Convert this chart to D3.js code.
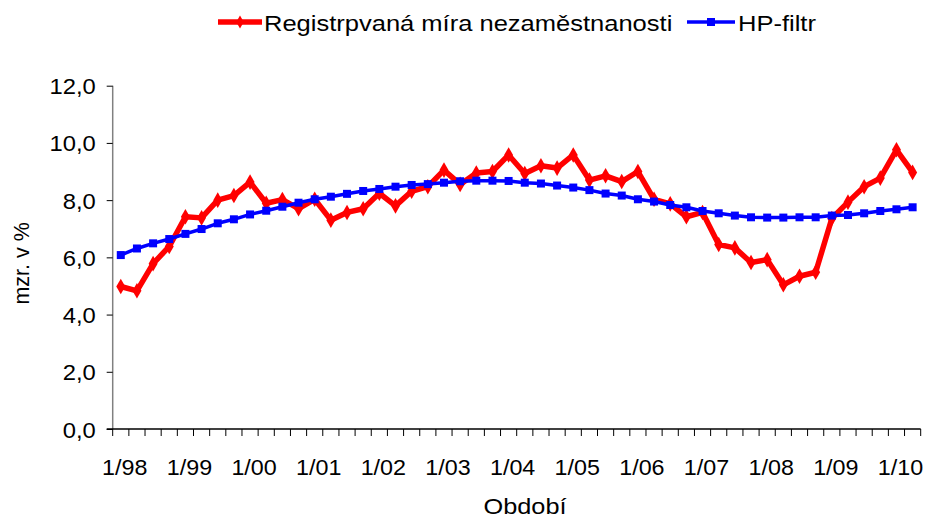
<!DOCTYPE html>
<html>
<head>
<meta charset="utf-8">
<script src="https://cdn.jsdelivr.net/npm/d3@7"></script>
<style>
  body { margin: 0; background: #fff; }
  svg { display: block; font-family: "Liberation Sans", Arial, sans-serif; }
</style>
</head>
<body>
<svg id="chart" width="928" height="520"></svg>
<script>
// Quarterly periods 1998Q1 .. 2010Q2
const years = ["98","99","00","01","02","03","04","05","06","07","08","09","10"];
const periods = [];
years.forEach(y => { for (let q = 1; q <= 4; q++) periods.push(q + "/" + y); });
periods.length = 50;
const tickLabelYears = years.map(y => "1/" + y);

const unemployment = [
  4.98, 4.83, 5.78, 6.38, 7.42, 7.38, 8.0, 8.16, 8.63, 7.89,
  8.02, 7.70, 8.03, 7.30, 7.57, 7.70, 8.24, 7.80, 8.31, 8.47,
  9.05, 8.55, 8.95, 9.00, 9.58, 8.93, 9.20, 9.12, 9.58, 8.70,
  8.85, 8.65, 9.00, 8.03, 7.87, 7.42, 7.57, 6.45, 6.33, 5.82,
  5.92, 5.04, 5.34, 5.48, 7.36, 7.93, 8.47, 8.77, 9.76, 8.97
];
const hpFilter = [
  6.08, 6.31, 6.49, 6.64, 6.82, 6.99, 7.19, 7.33, 7.50, 7.63,
  7.77, 7.91, 8.03, 8.12, 8.22, 8.32, 8.39, 8.47, 8.53, 8.56,
  8.61, 8.66, 8.68, 8.68, 8.67, 8.61, 8.58, 8.51, 8.44, 8.35,
  8.23, 8.16, 8.03, 7.95, 7.83, 7.75, 7.62, 7.54, 7.46, 7.40,
  7.39, 7.39, 7.40, 7.40, 7.46, 7.48, 7.54, 7.62, 7.68, 7.75
];
const yTicks = [0, 2, 4, 6, 8, 10, 12];
const seriesNames = ["Registrpvaná míra nezaměstnanosti", "HP-filtr"];
const axisTitleX = "Období";
const axisTitleY = "mzr. v %";

const svg = d3.select("#chart");
const pLeft = 112.7, pRight = 920.7, pTop = 85.7, pBottom = 429;

const x = d3.scaleBand().domain(periods).range([pLeft, pRight]).padding(0);
const y = d3.scaleLinear().domain([0, 12]).range([pBottom, pTop]);
const cx = d => x(d) + x.bandwidth() / 2;

// helper: horizontally stretched text (reference rendering is wider than tall)
function stext(g, px, py, str, size, sx, anchor) {
  return g.append("text")
    .attr("transform", `translate(${px},${py}) scale(${sx},1)`)
    .attr("text-anchor", anchor || "start")
    .attr("font-size", size).attr("fill", "#000").text(str);
}

// Y axis
const yAxis = d3.axisLeft(y).tickValues(yTicks).tickSize(6).tickPadding(10)
  .tickFormat(d => d3.format(".1f")(d).replace(".", ","));
const gy = svg.append("g").attr("transform", `translate(${pLeft},0)`).call(yAxis);
gy.select(".domain").attr("stroke", "#808080").attr("stroke-width", 1.5).attr("d", `M0,${pTop}V${pBottom}`);
gy.selectAll(".tick line").attr("stroke", "#000");
gy.selectAll(".tick text").remove();
gy.selectAll(".tick").each(function(d) {
  stext(d3.select(this), -17, 8, d3.format(".1f")(d).replace(".", ","), 22, 1.08, "end");
});

// X axis: ticks at category boundaries
const boundaries = d3.range(periods.length + 1).map(i => pLeft + i * x.bandwidth());
const gx = svg.append("g");
gx.append("line").attr("x1", pLeft - 6).attr("x2", pRight).attr("y1", pBottom).attr("y2", pBottom)
  .attr("stroke", "#000").attr("stroke-width", 1.5);
gx.selectAll("line.tk").data(boundaries).enter().append("line").attr("class", "tk")
  .attr("x1", d => d).attr("x2", d => d).attr("y1", pBottom).attr("y2", pBottom + 7)
  .attr("stroke", "#000").attr("stroke-width", 1);
tickLabelYears.forEach(d => stext(gx, cx(d) + 4, pBottom + 46, d, 22, 1.06, "middle"));

// Axis titles
stext(svg, 525, 514, axisTitleX, 22, 1.15, "middle");
svg.append("text").attr("transform", `translate(29,${(pTop + pBottom) / 2 + 6}) rotate(-90)`)
  .attr("text-anchor", "middle").attr("font-size", 21.5).text(axisTitleY);

// Lines
const line = d3.line().x((d, i) => cx(periods[i])).y(d => y(d));
svg.append("path").datum(unemployment).attr("d", line).attr("fill", "none")
  .attr("stroke", "#ff0000").attr("stroke-width", 5.5).attr("stroke-linejoin", "round");
svg.selectAll("path.dm").data(unemployment).enter().append("path").attr("class", "dm")
  .attr("d", d3.symbol(d3.symbolDiamond, 70))
  .attr("transform", (d, i) => `translate(${cx(periods[i])},${y(d)})`)
  .attr("fill", "#ff0000");

svg.append("path").datum(hpFilter).attr("d", line).attr("fill", "none")
  .attr("stroke", "#0000ff").attr("stroke-width", 3.5).attr("stroke-linejoin", "round");
svg.selectAll("rect.sq").data(hpFilter).enter().append("rect").attr("class", "sq")
  .attr("x", (d, i) => cx(periods[i]) - 4).attr("y", d => y(d) - 4)
  .attr("width", 8).attr("height", 8).attr("fill", "#0000ff");

// Legend
const lg = svg.append("g");
lg.append("line").attr("x1", 218).attr("x2", 262).attr("y1", 22).attr("y2", 22)
  .attr("stroke", "#ff0000").attr("stroke-width", 5.5);
lg.append("path").attr("d", d3.symbol(d3.symbolDiamond, 50)).attr("transform", "translate(240,22)").attr("fill", "#ff0000");
stext(lg, 264, 31, seriesNames[0], 22, 1.16);
lg.append("line").attr("x1", 687).attr("x2", 735).attr("y1", 22).attr("y2", 22)
  .attr("stroke", "#0000ff").attr("stroke-width", 3.5);
lg.append("rect").attr("x", 707).attr("y", 18).attr("width", 8).attr("height", 8).attr("fill", "#0000ff");
stext(lg, 738, 31, seriesNames[1], 22, 1.16);
</script>
</body>
</html>
